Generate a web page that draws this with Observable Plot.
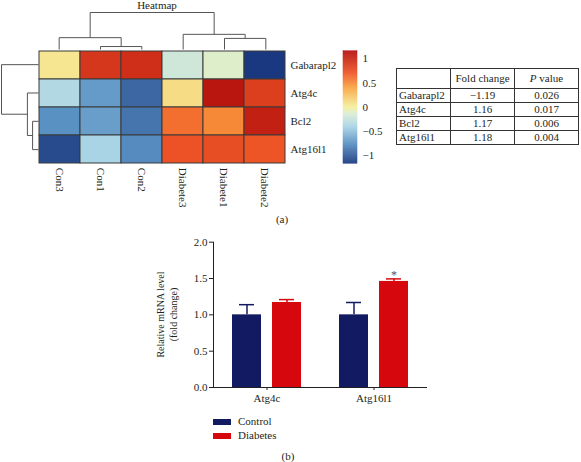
<!DOCTYPE html>
<html><head><meta charset="utf-8">
<script src="https://cdn.jsdelivr.net/npm/d3@7"></script>
<script src="https://cdn.jsdelivr.net/npm/@observablehq/plot@0.6"></script>
<style>
body{margin:0;background:#fff;}
#root{position:relative;width:581px;height:462px;overflow:hidden;font-family:"Liberation Serif",serif;color:#231f20;background:#fff;}
.abs{position:absolute;}
#tbl{border-collapse:collapse;font-size:11px;table-layout:fixed;font-family:"Liberation Serif",serif;}
#tbl td{border:1px solid #333;padding:0 2px;height:13px;line-height:13px;white-space:nowrap;overflow:hidden;}
#tbl tr.hd td{height:19px;line-height:19px;}
#tbl td.c{text-align:center;}
.lab{font-size:11px;line-height:11px;white-space:nowrap;font-family:"Liberation Serif",serif;}
.sw{position:absolute;width:18px;height:6px;}
.ylab{font-size:10px;line-height:12.5px;text-align:center;width:110px;height:25px;transform:rotate(-90deg);transform-origin:50% 50%;font-family:"Liberation Serif",serif;white-space:nowrap;}
</style>
</head><body><div id="root"></div>
<script>
// ---- data ----
const samples = ["Con3","Con1","Con2","Diabete3","Diabete1","Diabete2"];
const genes = ["Gabarapl2","Atg4c","Bcl2","Atg16l1"];
const zGabarapl2 = [0.05, 0.9, 0.95, -0.2, -0.12, -1.17];
const zAtg4c     = [-0.35, -0.7, -0.95, 0.1, 1.12, 0.85];
const zBcl2      = [-0.75, -0.68, -0.88, 0.6, 0.5, 1.05];
const zAtg16l1   = [-1.08, -0.4, -0.78, 0.72, 0.75, 0.7];
const colMerges = [["Con1","Con2",0.08],["Con3",0,0.32],["Diabete1","Diabete2",0.30],["Diabete3",2,0.41],[1,3,1.0]];
const rowMerges = [["Bcl2","Atg16l1",0.16],["Atg4c",0,0.30],["Gabarapl2",1,1.0]];
const colorDomain = [-1.17, 1.16];
const colorStops = [-1.17, -0.75, -0.4, -0.15, 0, 0.4, 0.7, 1.16];
const colorRange = ["#1a3880", "#5a91c3", "#a8d4e6", "#d8ecd6", "#f5ef9c", "#f9a340", "#ee5526", "#b5100e"];
const legendTicks = [-1, -0.5, 0, 0.5, 1];

const tableGenes = ["Gabarapl2","Atg4c","Bcl2","Atg16l1"];
const foldChange = ["−1.19","1.16","1.17","1.18"];
const pValues = ["0.026","0.017","0.006","0.004"];

const barGenes = ["Atg4c","Atg16l1"];
const groups = ["Control","Diabetes"];
const controlMean = [1.0, 1.0];
const controlErr = [0.14, 0.17];
const diabetesMean = [1.17, 1.46];
const diabetesErr = [0.04, 0.035];
const diabetesSig = ["", "*"];
const groupColors = ["#121b62", "#d6080e"];
const yTicks = [0, 0.5, 1.0, 1.5, 2.0];
const yLabelLines = ["Relative mRNA level", "(fold change)"];

// ---- helpers ----
const root = document.getElementById("root");
function place(el, left, top) { const d = document.createElement("div"); d.className = "abs"; d.style.left = left + "px"; d.style.top = top + "px"; d.appendChild(el); root.appendChild(d); return d; }
function dendroSegments(merges, leaves) {
  const pos = [], segs = [];
  const get = c => typeof c === "number" ? pos[c] : {p: leaves.indexOf(c) + 0.5, h: 0};
  merges.forEach(([a, b, h], i) => {
    const A = get(a), B = get(b);
    segs.push({p1: A.p, h1: A.h, p2: A.p, h2: h});
    segs.push({p1: B.p, h1: B.h, p2: B.p, h2: h});
    segs.push({p1: A.p, h1: h, p2: B.p, h2: h});
    pos[i] = {p: (A.p + B.p) / 2, h};
  });
  return segs;
}
const font = {fontFamily: "'Liberation Serif', serif", fontSize: "11px", color: "#231f20", background: "transparent"};
const colorScale = {type: "linear", domain: colorStops, range: colorRange, interpolate: "rgb", clamp: true};

// ---- heatmap ----
const zRows = [zGabarapl2, zAtg4c, zBcl2, zAtg16l1];
const cells = [];
genes.forEach((g, r) => samples.forEach((s, c) => cells.push({gene: g, sample: s, z: zRows[r][c]})));

place(Plot.plot({
  width: 340, height: 215, marginLeft: 38, marginRight: 54, marginTop: 50, marginBottom: 51.7,
  style: font,
  x: {domain: samples, padding: 0, axis: null},
  y: {domain: genes, padding: 0, axis: null},
  color: colorScale,
  marks: [
    Plot.cell(cells, {x: "sample", y: "gene", fill: "z", stroke: "#3a3a3a", strokeWidth: 1, inset: 0}),
    Plot.axisY({anchor: "right", tickSize: 0, tickPadding: 4, label: null}),
    Plot.axisX({anchor: "bottom", tickSize: 0, tickPadding: 4, tickRotate: 90, label: null})
  ]
}), 0, 0);

// column dendrogram
place(Plot.plot({
  width: 340, height: 51, marginLeft: 38, marginRight: 54, marginTop: 13, marginBottom: 1,
  style: font,
  x: {domain: [0, samples.length], axis: null},
  y: {domain: [0, 1], axis: null},
  marks: [Plot.link(dendroSegments(colMerges, samples), {x1: "p1", y1: "h1", x2: "p2", y2: "h2", stroke: "#555", strokeWidth: 1})]
}), 0, -1);

// row dendrogram
place(Plot.plot({
  width: 40, height: 170, marginLeft: 1, marginRight: 2, marginTop: 50, marginBottom: 6.7,
  style: font,
  x: {domain: [1, 0], axis: null},
  y: {domain: [0, genes.length], reverse: true, axis: null},
  marks: [Plot.link(dendroSegments(rowMerges, genes), {x1: "h1", y1: "p1", x2: "h2", y2: "p2", stroke: "#555", strokeWidth: 1})]
}), 0, 0);

// colour bar
const [lo, hi] = colorDomain;
const slices = d3.range(113).map(i => { const a = lo + (hi - lo) * i / 113, b = lo + (hi - lo) * (i + 1) / 113; return {y1: a, y2: b, v: (a + b) / 2}; });
place(Plot.plot({
  width: 60, height: 170, marginLeft: 13, marginRight: 33, marginTop: 50.7, marginBottom: 6.7,
  style: font,
  y: {domain: colorDomain, axis: null},
  color: colorScale,
  marks: [
    Plot.rect(slices, {y1: "y1", y2: "y2", fill: "v", stroke: "v", strokeWidth: 0.4}),
    Plot.axisY({anchor: "right", ticks: legendTicks, tickSize: 0, tickPadding: 5, label: null,
      tickFormat: d => d < 0 ? "−" + (-d) : String(d)})
  ]
}), 330, 0);

// title and panel labels
function textDiv(txt, left, top, width, align) { const s = document.createElement("div"); s.className = "lab"; s.textContent = txt; s.style.width = width + "px"; s.style.textAlign = align; return place(s, left, top); }
textDiv("Heatmap", 117, 0, 80, "center");
textDiv("(a)", 272, 214, 20, "center");
textDiv("(b)", 278, 451, 20, "center");

// ---- table ----
const tbl = document.createElement("table");
tbl.id = "tbl";
const colgroup = document.createElement("colgroup");
[54, 64, 64].forEach(w => { const c = document.createElement("col"); c.style.width = w + "px"; colgroup.appendChild(c); });
tbl.appendChild(colgroup);
const hd = document.createElement("tr"); hd.className = "hd";
hd.innerHTML = '<td></td><td class="c">Fold change</td><td class="c"><i>P</i> value</td>';
tbl.appendChild(hd);
tableGenes.forEach((g, i) => {
  const tr = document.createElement("tr");
  [g, foldChange[i], pValues[i]].forEach((v, j) => { const td = document.createElement("td"); td.textContent = v; if (j > 0) td.className = "c"; tr.appendChild(td); });
  tbl.appendChild(tr);
});
place(tbl, 396, 68);

// ---- bar chart ----
const barData = [];
barGenes.forEach((g, i) => {
  barData.push({gene: g, group: groups[0], mean: controlMean[i], err: controlErr[i], sig: ""});
  barData.push({gene: g, group: groups[1], mean: diabetesMean[i], err: diabetesErr[i], sig: diabetesSig[i]});
});
place(Plot.plot({
  width: 300, height: 185, marginLeft: 73, marginRight: 13, marginTop: 16.7, marginBottom: 23,
  style: font,
  fx: {domain: barGenes, padding: 0, axis: "bottom", label: null, tickSize: 3, tickPadding: 4},
  x: {domain: groups, paddingInner: 0.275, paddingOuter: 0.475, axis: null},
  y: {domain: [0, 2], ticks: yTicks, tickFormat: ".1f", tickSize: 4, tickPadding: 2, line: true, label: null},
  color: {domain: groups, range: groupColors},
  marks: [
    Plot.barY(barData, {fx: "gene", x: "group", y: "mean", fill: "group"}),
    Plot.ruleX(barData, {fx: "gene", x: "group", y1: "mean", y2: d => d.mean + d.err, stroke: "group", strokeWidth: 1.5}),
    Plot.tickY(barData, {fx: "gene", x: "group", y: d => d.mean + d.err, stroke: "group", strokeWidth: 1.5, insetLeft: 7, insetRight: 7}),
    Plot.text(barData, {fx: "gene", x: "group", y: d => d.mean + d.err, text: "sig", dy: -4, fill: "#555", fontSize: 12}),
    Plot.ruleY([0], {stroke: "#231f20"})
  ]
}), 140, 225);

// y axis title (two lines)
const yl = document.createElement("div"); yl.className = "ylab";
yl.innerHTML = yLabelLines.join("<br>");
place(yl, 166.5 - 55, 314 - 12.5);

// legend
groups.forEach((g, i) => {
  const sw = document.createElement("div"); sw.className = "sw"; sw.style.background = groupColors[i];
  place(sw, 213, 419 + i * 14);
  textDiv(g, 238, 416 + i * 14, 60, "left");
});
</script>
</body></html>
